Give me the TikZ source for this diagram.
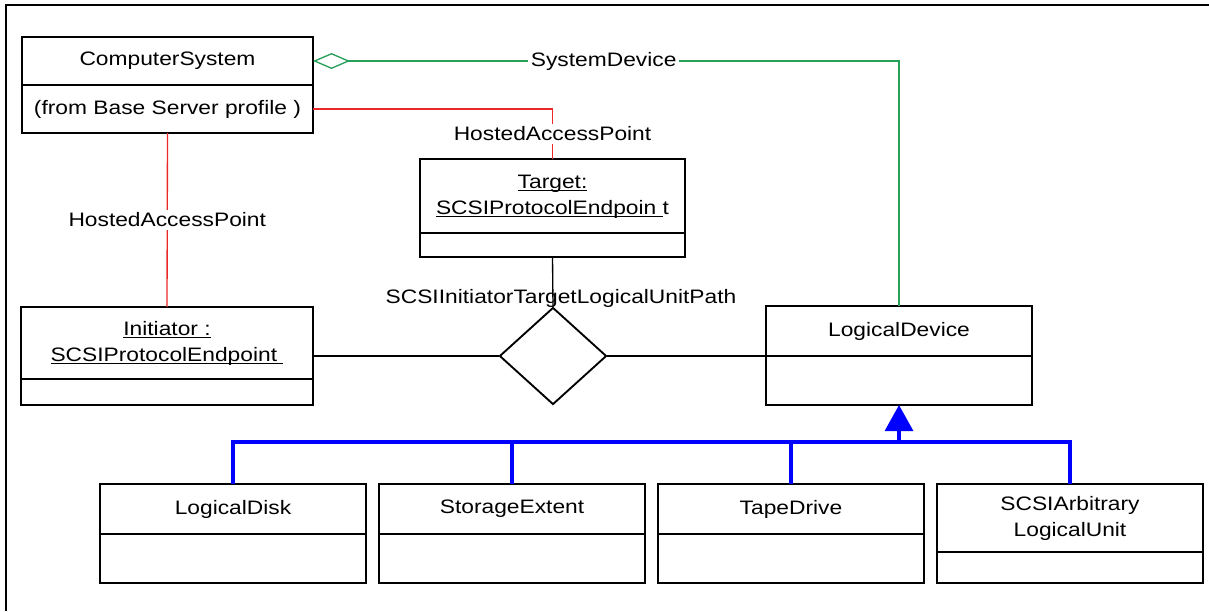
\documentclass[tikz,border=0pt]{standalone}
\usepackage{fontspec}
\setmainfont{Liberation Sans}[FakeStretch=1.17]
\usepackage{xcolor}
\usepackage{tikz}
\usetikzlibrary{shapes,arrows.meta,positioning}

\definecolor{aggreen}{RGB}{40,160,90}
\definecolor{hostred}{RGB}{235,40,40}
\newcommand{\umlfont}{\fontsize{14.6}{19.5}\selectfont}
\newcommand{\ulname}[1]{\underline{\raisebox{0pt}[\height][0pt]{#1}}}

\begin{document}
\begin{tikzpicture}[
    x=0.75pt, y=-0.75pt,
    cls/.style={rectangle, draw, line width=0.9pt, minimum width=199.5pt, minimum height=37.5pt, inner sep=0pt, outer sep=0pt, align=center, font=\umlfont},
    assoc/.style={diamond, draw, line width=1.4pt, minimum width=80.25pt, minimum height=72.75pt, inner sep=0pt},
    lbl/.style={font=\umlfont, inner sep=2pt},
    link/.style={line width=1pt},
    agg/.style={draw=aggreen, line width=1pt},
    host/.style={draw=hostred, line width=1pt},
    inh/.style={draw=blue, line width=2.4pt}
]
\useasboundingbox (0,0) rectangle (1209,611);
\draw[line width=1.8pt] (1209,5) -- (6,5) -- (6,611);

\node[cls, minimum width=218.25pt, minimum height=36pt, anchor=north west] (cs) at (22,37) {ComputerSystem};
\node[cls, minimum width=218.25pt, minimum height=36pt, below=0pt of cs] (csattr) {(from Base Server profile )};

\node[cls, minimum width=198.75pt, minimum height=55.5pt, anchor=north west] (target) at (420,159) {\ulname{Target:}\\\ulname{SCSIProtocolEndpoin\ }t};
\node[cls, minimum width=198.75pt, minimum height=18pt, below=0pt of target] (targetattr) {};

\node[cls, minimum width=219pt, minimum height=54pt, anchor=north west] (init) at (21,307) {\ulname{Initiator :}\\\ulname{SCSIProtocolEndpoint\ }};
\node[cls, minimum width=219pt, minimum height=19.5pt, below=0pt of init] (initattr) {};

\node[assoc] (assoc) at (553,356) {};

\node[cls, anchor=north west] (ld) at (766,306) {LogicalDevice};
\node[cls, minimum height=36.75pt, below=0pt of ld] (ldattr) {};

% subclasses of LogicalDevice
\node[cls, anchor=north west] (disk) at (100,484) {LogicalDisk};
\node[cls, right=9.75pt of disk] (extent) {StorageExtent};
\node[cls, right=9.75pt of extent] (tape) {TapeDrive};
\node[cls, minimum height=51pt, right=9.75pt of tape.north east, anchor=north west] (unit) {SCSIArbitrary\\LogicalUnit};
\node[cls, minimum height=36.75pt, below=0pt of disk] (diskattr) {};
\node[cls, minimum height=36.75pt, below=0pt of extent] (extentattr) {};
\node[cls, minimum height=36.75pt, below=0pt of tape] (tapeattr) {};
\node[cls, minimum height=23.25pt, below=0pt of unit] (unitattr) {};

% associations
\draw[agg, {Diamond[open, length=27.75pt, width=12pt]}-] (cs.east) -| node[lbl, fill=white, pos=0.248] {SystemDevice} (ld.north);
\draw[host] (csattr.east) -| node[lbl, fill=white, pos=0.75] {HostedAccessPoint} (target.north);
\draw[host] (csattr.south) -- node[lbl, fill=white] {HostedAccessPoint} (init.north);

\draw[link] (targetattr.south) -- (assoc.north);
\draw[link] (init.east |- assoc.west) -- (assoc.west);
\draw[link] (assoc.east) -- (assoc.east -| ld.west);
\node[lbl] (pathlbl) at ([xshift=6pt, yshift=6pt]assoc.north) {SCSIInitiatorTargetLogicalUnitPath};

% inheritance
\coordinate (bus) at ([yshift=-27.75pt]ldattr.south);
\draw[inh, -{Triangle[length=19.5pt, width=21pt]}] (bus) -- (ldattr.south);
\foreach \n in {disk,extent,tape,unit}
    \draw[inh] (\n.north) |- (bus);

\end{tikzpicture}
\end{document}
